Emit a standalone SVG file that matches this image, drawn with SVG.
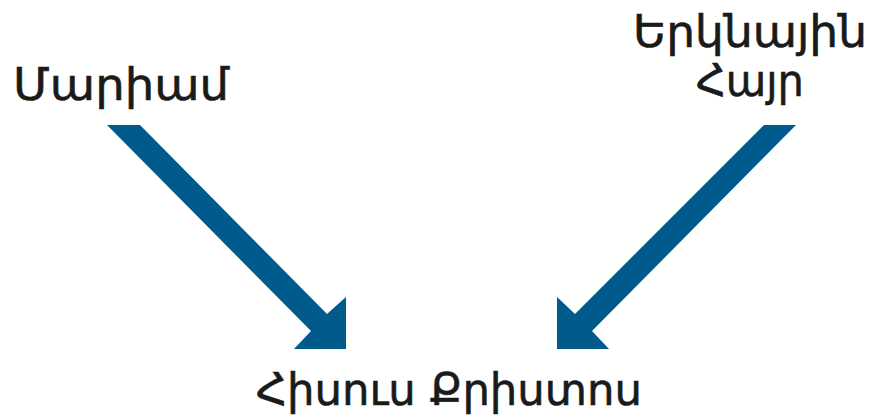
<svg xmlns="http://www.w3.org/2000/svg" width="876" height="417" viewBox="0 0 876 417">
<style>
.lbl{font-family:"DejaVu Sans","Noto Sans",sans-serif;font-size:45px;fill:#1a1a1a;stroke:#1a1a1a;stroke-width:0.6px;text-anchor:middle}
.arr{fill:#005A8B}
</style>
<rect width="876" height="417" fill="#ffffff"/>
<g id="connectors">
<polygon id="arrow-left" class="arr" points="107,125 140,125 327,314 346,297 346,349 294,349 311,331"/>
<polygon id="arrow-right" class="arr" points="764,125 796,125 592,331 609,349 557,349 557,297 575,314"/>
</g>
<g id="node-mariam">
<text class="lbl" x="121" y="100" textLength="216" lengthAdjust="spacingAndGlyphs">Մարիամ</text>
</g>
<g id="node-father">
<text class="lbl" x="750" y="47" textLength="234" lengthAdjust="spacingAndGlyphs">Երկնային</text>
<text class="lbl" x="750" y="96" textLength="108" lengthAdjust="spacingAndGlyphs">Հայր</text>
</g>
<g id="node-jesus">
<text class="lbl" x="449" y="405" textLength="386" lengthAdjust="spacingAndGlyphs">Հիսուս Քրիստոս</text>
</g>
</svg>
